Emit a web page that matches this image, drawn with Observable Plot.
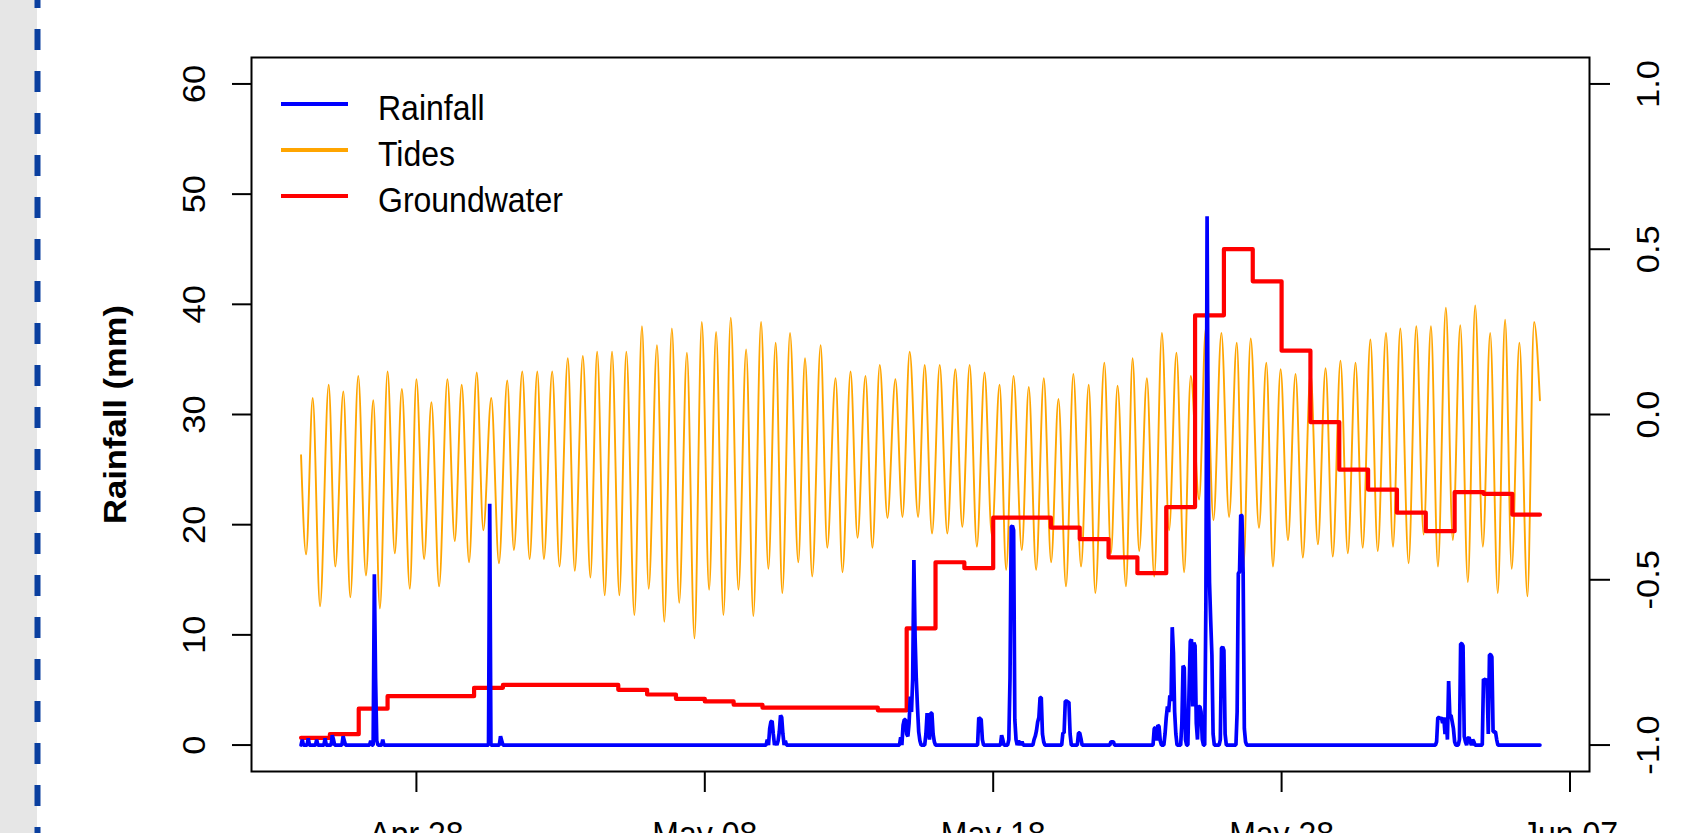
<!DOCTYPE html>
<html><head><meta charset="utf-8">
<script src="https://cdn.jsdelivr.net/npm/d3@7"></script>
<script src="https://cdn.jsdelivr.net/npm/@observablehq/plot@0.6"></script>
<style>
html,body{margin:0;padding:0;background:#fff;overflow:hidden;width:1691px;height:833px;}
#wrap{position:relative;width:1691px;height:833px;overflow:hidden;}
#chart,#strip,#legend{position:absolute;left:0;top:0;}
</style></head><body>
<div id="wrap"><div id="chart"></div><svg id="strip" width="46" height="833"></svg><svg id="legend" width="700" height="260"></svg></div>
<script>
// ---------- data ----------
const seriesStart = Date.UTC(2016, 3, 24, 0, 0); // Apr 24, hourly records
const seriesEndHour = 1031;
const xTickDates = ["2016-04-28", "2016-05-08", "2016-05-18", "2016-05-28", "2016-06-07"];
const xTickLabels = ["Apr 28", "May 08", "May 18", "May 28", "Jun 07"];
const leftLimits = [0, 60];
const rightLimits = [-1, 1];
const leftTicks = [0, 10, 20, 30, 40, 50, 60];
const rightTicks = [-1, -0.5, 0, 0.5, 1];
const seriesNames = ["Rainfall", "Tides", "Groundwater"];
const seriesColors = ["blue", "orange", "red"];

// rainfall (mm), [hour since start, value]; all other hours are 0
const rainfallEvents = [
  [1,0.5],[6,0.6],[13,0.5],[20,0.6],[26,0.9],[27,0.5],[35,0.8],[36,0.4],
  [58,0.4],[61,15.5],[62,6.1],[63,0.4],[68,0.5],
  [157,21.9],[166,0.8],[167,0.4],
  [388,0.5],[390,1.5],[391,2.1],[392,2.2],[393,1.0],[395,0.3],[397,0.4],[398,1.2],[399,2.7],[400,2.5],[401,1.0],[403,0.4],
  [499,0.7],[501,1.8],[502,2.3],[503,2.3],[504,1.0],[505,0.8],[506,2.0],[507,4.4],[508,3.0],[509,6.0],[510,16.8],[511,9.8],[512,6.0],[513,3.4],[514,1.2],[515,0.4],
  [520,1.0],[521,2.9],[522,1.5],[523,0.5],[524,2.9],[525,2.9],[526,1.0],[527,0.3],
  [564,2.5],[565,2.4],[566,2.3],[567,0.5],[583,0.9],[584,0.5],
  [589,0.5],[590,6.1],[591,19.8],[592,19.9],[593,19.5],[594,2.3],[595,0.5],[597,0.3],[598,0.3],[600,0.3],
  [610,0.5],[611,0.8],[612,1.3],[613,2.1],[614,2.5],[615,4.3],[616,4.3],[617,1.0],[618,0.3],
  [634,1.1],[635,1.1],[636,4.0],[637,4.0],[638,3.9],[639,3.9],[640,1.0],
  [647,1.1],[648,1.1],[649,0.6],[674,0.3],[675,0.3],[676,0.3],
  [710,1.5],[711,1.6],[712,0.4],[713,1.8],[714,1.7],[715,0.4],
  [719,1.0],[720,2.5],[721,3.5],[722,3.0],[723,4.5],[724,4.0],[725,10.7],[726,8.4],[727,3.0],[728,1.0],
  [733,2.0],[734,7.2],[735,7.0],[736,0.5],
  [739,5.0],[740,9.4],[741,9.6],[742,3.5],[743,9.3],[744,9.0],[745,2.0],[746,0.5],[747,3.5],[748,3.5],[749,3.0],[750,0.5],
  [753,13.0],[754,48.0],[755,24.4],[756,14.8],[757,11.3],[758,8.2],[759,1.0],
  [765,0.5],[766,8.8],[767,8.9],[768,8.6],[769,1.0],
  [779,3.0],[780,15.6],[781,15.7],[782,20.9],[783,20.8],[784,15.6],[785,1.5],[786,0.3],
  [945,0.3],[946,2.5],[947,2.5],[948,2.4],[949,2.5],[950,2.0],[951,2.5],[952,1.0],[953,2.5],[954,0.5],
  [955,5.8],[956,2.7],[957,2.7],[958,2.1],[959,1.5],[960,0.3],[964,0.5],[965,9.2],[966,9.2],[967,9.0],[968,0.8],[969,0.3],
  [971,0.6],[972,0.7],[973,0.3],[975,0.5],[976,0.3],
  [984,6.0],[985,5.9],[986,6.0],[987,5.5],[988,1.0],[989,8.2],[990,8.2],[991,8.0],[992,1.2],[993,1.2],[994,1.2],[995,0.5]
];

// tides (right axis): hours of the turning points and their levels
const tideHours = [0,
  4.2,9.7,15.8,23.0,28.5,35.2,41.0,47.6,54.0,60.1,65.6,72.0,78.0,83.9,90.5,96.0,102.4,108.5,114.9,121.8,
  127.9,133.7,139.8,146.2,151.7,158.3,164.7,171.6,177.1,184.1,190.2,196.6,202.1,209.0,215.1,222.0,227.8,234.5,240.8,246.4,
  252.7,258.8,264.9,270.7,277.4,283.7,289.3,296.2,302.3,308.6,314.7,321.1,327.4,333.5,339.6,345.4,351.5,357.6,364.0,370.4,
  376.4,382.8,388.9,395.0,400.5,406.9,413.8,419.4,425.4,432.4,437.9,444.8,450.6,457.3,463.1,469.7,475.5,481.6,488.0,494.6,
  500.5,506.5,513.5,519.0,525.1,531.5,537.8,544.5,550.3,556.4,562.4,568.8,574.9,581.3,586.8,592.9,599.8,605.6,611.7,618.1,
  624.2,630.3,636.6,642.7,649.1,655.5,661.0,668.5,674.0,679.5,686.5,692.0,697.5,703.9,710.0,716.4,722.4,728.5,734.9,740.4,
  747.4,752.9,759.3,765.9,772.3,778.7,784.2,790.3,797.2,803.3,808.8,815.2,821.3,827.6,833.7,840.1,846.2,852.6,858.6,865.0,
  871.1,877.5,883.5,889.9,896.0,902.9,908.7,914.8,921.7,928.1,934.2,940.3,946.1,952.7,958.5,964.7,971.0,977.1,983.5,989.6,
  995.9,1002.0,1007.5,1013.9,1020.6,1026.1,
  1031];
const tideLevels = [-0.123,
  -0.423,0.050,-0.580,0.090,-0.460,0.070,-0.553,0.117,-0.487,0.043,-0.587,0.130,-0.420,0.077,-0.527,0.107,-0.437,0.037,-0.520,0.107,
  -0.383,0.090,-0.447,0.127,-0.350,0.050,-0.450,0.103,-0.410,0.130,-0.437,0.130,-0.437,0.130,-0.460,0.170,-0.473,0.177,-0.493,0.190,
  -0.547,0.190,-0.547,0.190,-0.607,0.267,-0.527,0.210,-0.627,0.260,-0.570,0.187,-0.677,0.280,-0.530,0.250,-0.607,0.293,-0.530,0.197,
  -0.610,0.280,-0.467,0.217,-0.540,0.247,-0.447,0.170,-0.490,0.210,-0.403,0.110,-0.477,0.130,-0.373,0.117,-0.403,0.150,-0.313,0.107,
  -0.310,0.190,-0.310,0.150,-0.360,0.150,-0.360,0.137,-0.340,0.150,-0.400,0.127,-0.367,0.090,-0.470,0.117,-0.410,0.083,-0.470,0.110,
  -0.447,0.047,-0.520,0.123,-0.460,0.090,-0.540,0.157,-0.420,0.087,-0.520,0.170,-0.413,0.110,-0.490,0.247,-0.350,0.187,-0.477,0.117,
  -0.257,0.260,-0.320,0.247,-0.310,0.217,-0.460,0.230,-0.343,0.157,-0.460,0.137,-0.380,0.123,-0.433,0.127,-0.393,0.140,-0.430,0.163,
  -0.420,0.157,-0.403,0.227,-0.413,0.247,-0.400,0.260,-0.450,0.267,-0.363,0.267,-0.460,0.323,-0.380,0.270,-0.507,0.330,-0.400,0.247,
  -0.540,0.287,-0.467,0.217,-0.550,0.280,
  0.043];

// groundwater (right axis), one value per day from Apr 24
const groundwaterDaily = [-0.978,-0.967,-0.890,-0.852,-0.852,-0.852,-0.827,-0.818,-0.818,-0.818,
  -0.818,-0.833,-0.847,-0.860,-0.868,-0.878,-0.887,-0.887,-0.887,-0.887,
  -0.895,-0.647,-0.447,-0.465,-0.312,-0.312,-0.342,-0.377,-0.432,-0.480,
  -0.280,0.300,0.500,0.403,0.193,-0.023,-0.167,-0.227,-0.297,-0.353,
  -0.235,-0.240,-0.303];

// ---------- build tables ----------
const HOUR = 3600e3;
const at = h => new Date(seriesStart + h * HOUR);
const rainMap = new Map(rainfallEvents);
const rainTable = d3.range(0, seriesEndHour + 1).map(h => ({t: at(h), v: rainMap.get(h) ?? 0}));
const tideTable = tideHours.map((h, i) => ({t: at(h), v: tideLevels[i]}));
const gwTable = groundwaterDaily.map((v, i) => ({t: at(i * 24), v}));
gwTable.push({t: at(seriesEndHour), v: groundwaterDaily[groundwaterDaily.length - 1]});

// R-style 4% axis expansion
const pad = ([a, b]) => [a - 0.04 * (b - a), b + 0.04 * (b - a)];
const xDomain = pad([at(0), at(seriesEndHour)].map(Number)).map(d => new Date(d));
const yDomain = pad(leftLimits);
// second plot region: right axis limits mapped onto the left axis limits
const toLeft = r => leftLimits[0] + (r - rightLimits[0]) / (rightLimits[1] - rightLimits[0]) * (leftLimits[1] - leftLimits[0]);

const FONT = "'Liberation Sans', Arial, sans-serif";
const FS = 32;
const STRETCH = 1.08; // the reference's lettering is slightly taller than wide

const chart = Plot.plot({
  width: 1691, height: 833,
  marginLeft: 251, marginRight: 102, marginTop: 57, marginBottom: 62,
  style: {fontFamily: FONT, background: "transparent", overflow: "visible"},
  x: {type: "utc", domain: xDomain},
  y: {domain: yDomain},
  marks: [
    Plot.line(tideTable, {x: "t", y: d => toLeft(d.v), stroke: seriesColors[1], strokeWidth: 1.9, curve: "monotone-x"}),
    Plot.line(gwTable, {x: "t", y: d => toLeft(d.v), stroke: seriesColors[2], strokeWidth: 4.2, curve: "step-after"}),
    Plot.line(rainTable, {x: "t", y: "v", stroke: seriesColors[0], strokeWidth: 3.7, strokeLinejoin: "miter"}),
    Plot.frame({stroke: "black", strokeWidth: 2}),
    Plot.axisX({ticks: xTickDates.map(d => new Date(d + "T00:00Z")), tickSize: 21, tickPadding: 30,
      tickFormat: (d) => xTickLabels[xTickDates.indexOf(d.toISOString().slice(0, 10))],
      stroke: "black", strokeWidth: 2, fontSize: FS, fill: "black", label: null}),
    Plot.axisY({ticks: leftTicks, anchor: "left", tickSize: 19, tickFormat: () => "", strokeWidth: 2, label: null}),
    Plot.axisY({ticks: rightTicks.map(toLeft), anchor: "right", tickSize: 20, tickFormat: () => "", strokeWidth: 2, label: null}),
    Plot.text(leftTicks, {y: d => d, text: d => String(d), frameAnchor: "left", dx: -57, rotate: -90,
      fontSize: FS, fill: "black", textAnchor: "middle", lineAnchor: "middle"}),
    Plot.text(rightTicks, {y: d => toLeft(d), text: d => d.toFixed(1), frameAnchor: "right", dx: 59, rotate: -90,
      fontSize: FS, fill: "black", textAnchor: "middle", lineAnchor: "middle"}),
    Plot.text(["Rainfall (mm)"], {frameAnchor: "left", dx: -136, rotate: -90, fontSize: FS, fontWeight: "bold",
      fill: "black", textAnchor: "middle", lineAnchor: "middle"})
  ]
});
document.getElementById("chart").appendChild(chart);

// left margin strip of the page
const strip = d3.select("#strip");
strip.append("rect").attr("x", 0).attr("y", 0).attr("width", 37).attr("height", 833).attr("fill", "#e6e6e6");
strip.append("line").attr("x1", 37.5).attr("x2", 37.5).attr("y1", 0).attr("y2", 833)
  .attr("stroke", "#0a3f9f").attr("stroke-width", 6).attr("stroke-dasharray", "21 21").attr("stroke-dashoffset", 13);

// legend (inside plot region, top-left, no box)
const lg = d3.select("#legend");
const rowY = [104, 150, 196];
seriesNames.forEach((name, i) => {
  lg.append("line").attr("x1", 281).attr("x2", 348).attr("y1", rowY[i]).attr("y2", rowY[i])
    .attr("stroke", seriesColors[i]).attr("stroke-width", 4);
  lg.append("text").attr("x", 378).attr("y", rowY[i] + 15.5)
    .attr("font-family", FONT).attr("font-size", FS).attr("fill", "black").text(name);
});

// stretch every text vertically about its own centre
function stretchTexts(svg) {
  svg.querySelectorAll("text").forEach(t => {
    const r = t.getBoundingClientRect();
    if (!r.height) return;
    const m = t.parentNode.getScreenCTM().inverse();
    const p = new DOMPoint(r.x + r.width / 2, r.y + r.height / 2).matrixTransform(m);
    const g = document.createElementNS("http://www.w3.org/2000/svg", "g");
    g.setAttribute("transform", `translate(0,${p.y}) scale(1,${STRETCH}) translate(0,${-p.y})`);
    t.parentNode.insertBefore(g, t);
    g.appendChild(t);
  });
}
stretchTexts(chart);
stretchTexts(document.getElementById("legend"));
</script>
</body></html>
